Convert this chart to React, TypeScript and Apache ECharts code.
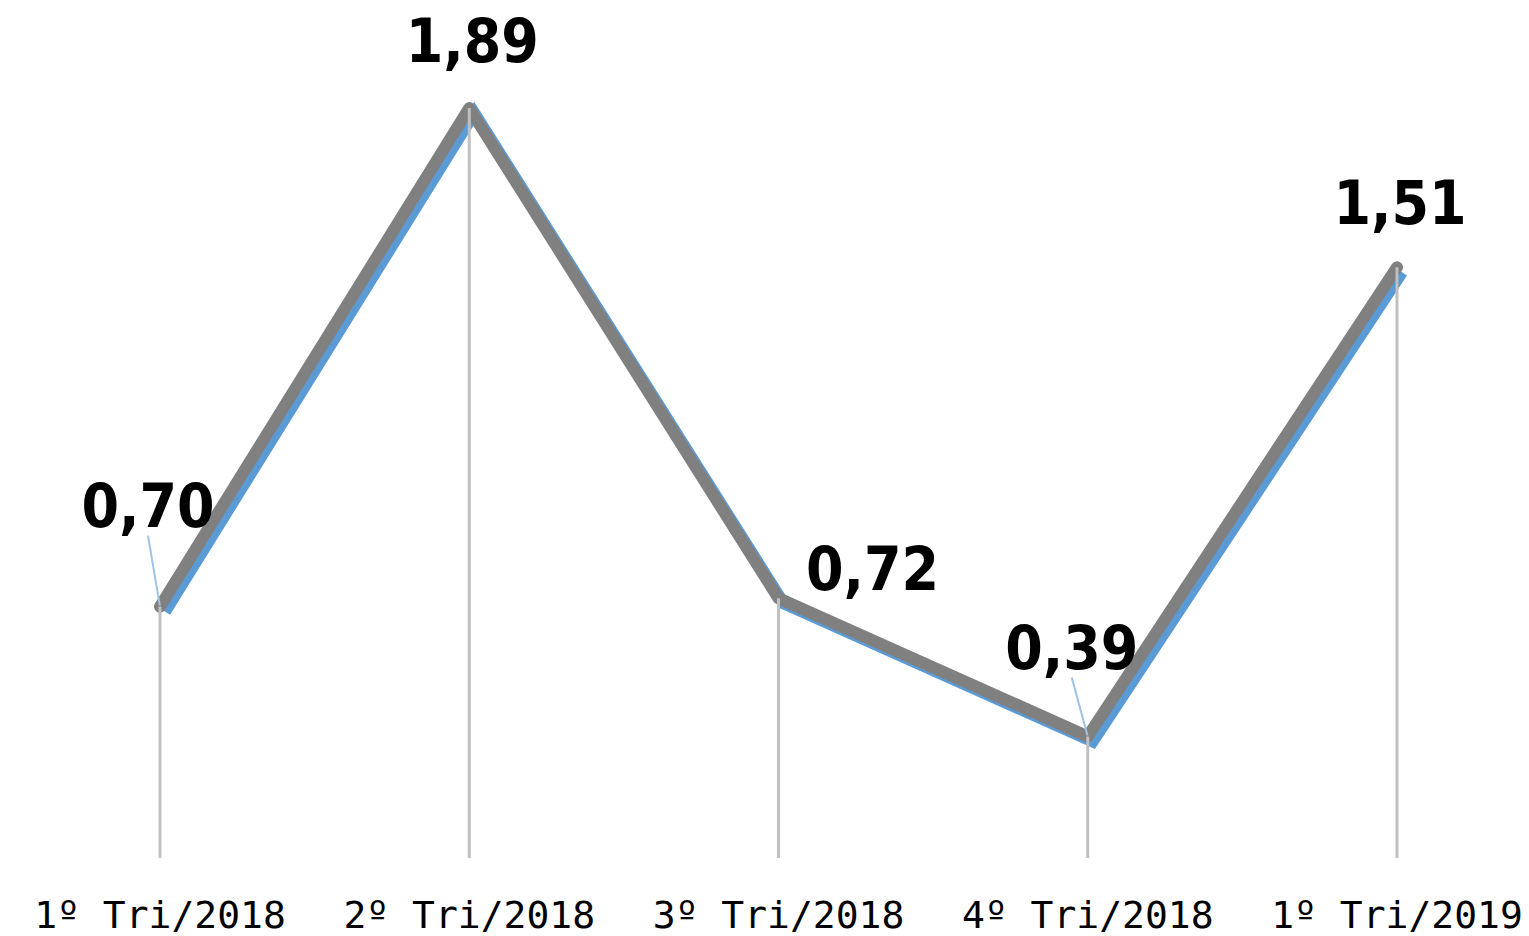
import React, { useEffect, useRef } from "react";
import * as echarts from "echarts";

const categories = ["1º Tri/2018", "2º Tri/2018", "3º Tri/2018", "4º Tri/2018", "1º Tri/2019"];
const values = [0.7, 1.89, 0.72, 0.39, 1.51];
const labelOffsets = [
  [-12, -101],
  [3, -67],
  [94, -29],
  [-16, -89],
  [3, -64],
];
const leaderLineIdx = [0, 3];

export default function App() {
  const ref = useRef<HTMLDivElement>(null);
  useEffect(() => {
    const chart = echarts.init(ref.current!, null, { renderer: "svg" });
    const hiddenX = {
      type: "category",
      data: categories,
      boundaryGap: false,
      show: false,
    };
    chart.setOption({
      animation: false,
      backgroundColor: "#ffffff",
      grid: [
        { left: 160, right: 132, top: 62, bottom: 78 },
        { left: 165, right: 127, top: 67, bottom: 73 },
      ],
      xAxis: [
        {
          type: "category",
          data: categories,
          boundaryGap: false,
          gridIndex: 0,
          axisLine: { show: false },
          axisTick: { show: false },
          splitLine: { show: false },
          axisLabel: {
            color: "#000",
            fontFamily: "DejaVu Sans Mono",
            fontSize: 38,
            margin: 57,
            verticalAlign: "middle",
            interval: 0,
          },
        },
        { ...hiddenX, gridIndex: 1 },
      ],
      yAxis: [
        { type: "value", min: 0.1, max: 2.0, show: false, gridIndex: 0 },
        { type: "value", min: 0.1, max: 2.0, show: false, gridIndex: 1 },
      ],
      series: [
        {
          type: "line",
          xAxisIndex: 1,
          yAxisIndex: 1,
          z: 1,
          data: values,
          symbol: "none",
          silent: true,
          lineStyle: { color: "#5b9bd5", width: 12, cap: "butt", join: "miter" },
        },
        {
          type: "line",
          z: 2,
          data: values.map((v, i) => ({
            value: v,
            labelLine: leaderLineIdx.includes(i)
              ? { show: true, lineStyle: { color: "#9dc3e6", width: 2 } }
              : { show: false },
          })),
          symbol: "circle",
          symbolSize: 2,
          showSymbol: true,
          itemStyle: { color: "rgba(0,0,0,0)" },
          lineStyle: {
            color: "#808080",
            width: 12,
            cap: "round",
            join: "round",
          },
          label: {
            show: true,
            position: "inside",
            align: "center",
            verticalAlign: "middle",
            fontFamily: "'DejaVu Sans Condensed', 'Open Sans'",
            fontWeight: "bold",
            fontSize: 60,
            lineHeight: 60,
            color: "#000",
            formatter: (p: any) => p.value.toFixed(2).replace(".", ","),
          },
          labelLayout: (p: any) => ({
            dx: labelOffsets[p.dataIndex][0],
            dy: labelOffsets[p.dataIndex][1],
          }),
        },
        {
          type: "bar",
          z: 3,
          data: values,
          barWidth: 3,
          itemStyle: { color: "#c0c0c0" },
          silent: true,
        },
      ],
    });
    return () => chart.dispose();
  }, []);
  return (
    <div
      ref={ref}
      style={{ position: "absolute", left: 0, top: 0, width: 1529, height: 936 }}
    />
  );
}
